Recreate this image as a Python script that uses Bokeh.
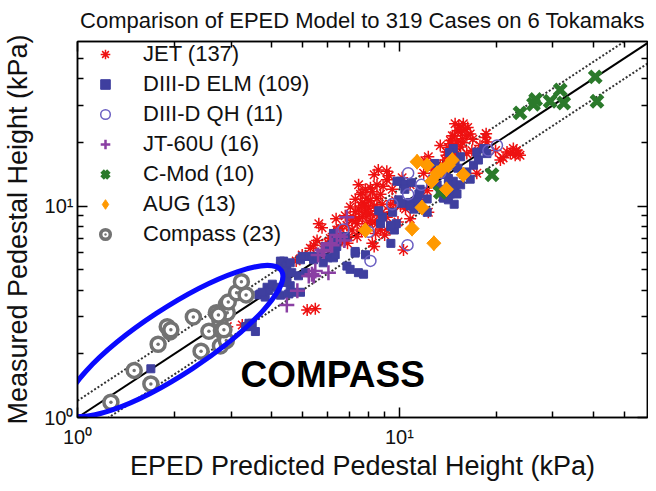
from bokeh.plotting import figure
from bokeh.models import LogAxis, FixedTicker
from bokeh.embed import file_html
from bokeh.resources import INLINE
from bokeh.core.properties import value
import numpy as np

FONT = "Liberation Sans"

# ---------------- data (kPa) ----------------
jet_x = [15.5, 16.0, 14.8, 14.4, 15.1, 15.7, 16.2, 15.5, 14.8, 16.8, 14.0, 18.5, 18.7, 21.6, 22.6, 23.4, 22.9, 17.4,
         16.2, 12.3, 14.0, 15.3, 15.8, 14.6, 14.4, 22.1, 23.1, 23.7, 12.0, 11.9, 21.0, 16.6, 15.2, 14.2, 17.8, 18.6,
         15.7, 16.9, 14.9, 13.9, 8.35, 9.14, 9.14, 8.52, 7.57, 7.93, 8.13, 7.66, 8.03, 7.47, 7.84, 8.13, 8.52, 7.68,
         8.13, 8.52, 7.39, 7.13, 6.56, 6.25, 6.63, 6.10, 5.62, 6.95, 8.74, 7.39, 8.35, 7.13, 8.84, 9.38, 9.73, 12.2,
         12.3, 10.3, 5.55, 5.42, 5.89, 8.6, 9.3, 7.66, 8.13, 7.8, 8.35, 8.52, 8.84, 9.14, 7.20, 6.87, 6.47, 6.0,
         5.75, 8.24, 9.38, 10.2, 9.0, 8.24, 10.08, 9.14, 6.39, 5.17, 5.48, 2.92, 3.25, 7.47, 7.84, 7.63, 7.93, 7.30,
         8.63, 8.24, 7.88, 6.79, 7.47, 8.74, 9.5, 5.29, 4.99, 4.78, 6.9, 7.63, 9.9, 10.8, 11.6, 10.45, 7.3, 8.43,
         8.9, 7.04, 6.36, 10.8, 13.4, 12.7, 20.6, 19.9, 13.4, 16.3, 14.9]
jet_y = [22.4, 23.1, 21.5, 20.4, 20.1, 20.8, 21.5, 19.0, 18.7, 18.3, 18.0, 21.1, 20.1, 18.0, 18.7, 17.7, 17.4, 14.3,
         17.7, 17.1, 17.4, 24.0, 24.5, 21.5, 19.7, 17.7, 18.3, 17.4, 16.4, 14.3, 16.9, 21.9, 22.7, 18.9, 19.35, 22.0,
         19.9, 20.7, 17.4, 16.5, 14.06, 14.6, 13.3, 12.6, 11.36, 10.9, 10.6, 10.4, 9.8, 9.68, 9.3, 9.18, 9.5, 8.9,
         8.55, 8.25, 8.25, 7.7, 7.82, 7.42, 6.88, 7.03, 8.25, 7.16, 7.7, 7.16, 6.44, 8.55, 10.2, 9.68, 10.6, 11.8,
         9.35, 6.2, 6.88, 6.53, 6.44, 14.8, 13.9, 11.6, 12.2, 10.1, 10.0, 10.9, 9.35, 8.85, 8.85, 8.1, 7.7, 6.7,
         7.9, 8.4, 10.2, 13.6, 7.3, 6.67, 10.0, 7.7, 7.7, 3.22, 3.27, 2.69, 2.74, 12.6, 12.0, 10.0, 9.18, 9.4,
         9.0, 11.7, 8.25, 9.0, 8.7, 11.36, 12.0, 6.32, 5.87, 5.5, 6.67, 7.6, 8.4, 8.7, 10.77, 9.68, 10.77, 7.42,
         12.4, 9.9, 8.7, 12.6, 15.6, 14.8, 16.5, 18.3, 19.35, 23.5, 24.5]

elm_x = [1.69, 3.33, 3.41, 3.49, 3.57, 3.37, 3.66, 3.70, 3.83, 3.88, 3.93, 4.03, 4.17, 4.27, 4.37, 4.27, 4.47, 4.58,
         4.68, 4.53, 4.47, 4.27, 4.45, 4.58, 4.47, 4.63, 4.86, 4.93, 4.99, 5.23, 5.35, 5.41, 5.54, 5.88, 6.00, 6.17,
         6.32, 6.39, 6.24, 6.32, 6.24, 6.79, 6.87, 7.03, 7.29, 7.46, 7.74, 7.29, 8.74, 9.41, 9.65, 9.78, 9.53, 8.85,
         8.63, 9.41, 9.95, 10.2, 10.8, 11.1, 11.6, 12.2, 11.1, 11.4, 12.2, 10.1, 10.3, 9.83, 10.9, 11.5, 12.9, 13.1,
         13.4, 13.9, 13.7, 14.2, 14.4, 14.0, 14.2, 14.9, 14.7, 15.1, 15.5, 14.7, 15.2, 14.9, 15.5, 14.3, 16.2, 17.0,
         17.4, 18.3, 18.7, 14.8, 10.8, 14.2, 13.4, 15.8, 16.6, 17.6, 12.7, 10.4, 11.6, 5.80, 5.11, 4.93, 3.75, 9.41,
         7.85]
elm_y = [1.70, 2.69, 2.79, 2.79, 2.55, 2.69, 3.80, 3.84, 3.71, 4.13, 3.99, 4.27, 4.13, 3.79, 5.49, 5.20, 4.59, 4.20,
         3.91, 3.84, 4.35, 5.49, 5.20, 5.39, 4.94, 4.84, 4.68, 5.57, 5.78, 5.78, 5.78, 5.57, 5.78, 6.44, 5.69, 6.56,
         6.91, 6.44, 5.69, 5.89, 7.42, 7.17, 5.20, 5.02, 5.99, 4.84, 4.76, 6.10, 8.25, 7.98, 7.70, 8.25, 9.34, 8.87,
         9.50, 8.10, 10.7, 10.3, 10.4, 9.86, 10.0, 9.34, 9.67, 10.8, 10.8, 13.1, 12.7, 13.1, 12.9, 11.4, 15.9, 12.6,
         14.1, 14.8, 10.9, 10.7, 11.4, 11.8, 13.5, 12.4, 13.1, 11.4, 12.6, 18.7, 15.1, 15.6, 17.1, 17.9, 14.5, 15.6,
         18.0, 18.7, 17.7, 10.2, 10.0, 12.6, 12.0, 14.1, 13.4, 16.5, 13.4, 12.0, 12.0, 5.39, 4.84, 3.91, 3.91, 6.66,
         5.88]

qh_x = [10.65, 10.65, 10.6, 8.13, 8.03, 20.1, 18.9, 11.7, 13.4, 9.5, 6.7]
qh_y = [14.3, 11.36, 6.53, 5.5, 7.55, 19.35, 18.3, 12.6, 14.35, 10.2, 7.75]

jt_x = [5.82, 6.18, 5.23, 5.42, 5.48, 4.82, 4.47, 6.87, 6.56, 6.10, 5.75, 5.35, 6.02, 6.39, 5.59, 6.75]
jt_y = [6.1, 6.53, 4.67, 4.67, 4.93, 3.98, 3.40, 8.85, 7.16, 6.67, 6.2, 4.76, 4.84, 7.29, 5.87, 6.87]

cmod_x = [40.6, 41.1, 31.6, 29.4, 32.4, 26.5, 26.1, 23.7, 19.4, 13.4]
cmod_y = [40.8, 31.3, 35.4, 31.3, 30.7, 31.9, 30.3, 27.6, 14.06, 11.6]

aug_x = [11.35, 12.2, 13.1, 13.5, 12.6, 15.8, 14.0, 11.75, 10.95, 12.8, 7.84, 14.2, 14.6]
aug_y = [16.2, 15.6, 14.3, 14.8, 13.1, 14.06, 12.0, 9.84, 7.82, 6.67, 7.68, 15.6, 16.5]

compass_x = [1.27, 1.50, 1.69, 1.78, 1.90, 1.94, 2.29, 2.42, 2.56, 2.70, 2.77, 2.80, 2.78, 2.90, 2.92, 2.90,
             2.94, 3.12, 3.23, 3.34, 2.74, 2.85, 1.95]
compass_y = [1.18, 1.67, 1.44, 2.22, 2.69, 2.54, 2.99, 2.06, 2.56, 3.13, 2.86, 2.58, 2.18, 3.43, 3.13, 2.31,
             3.52, 3.89, 4.39, 3.80, 3.05, 2.60, 2.60]

x_range = (1, 59)
y_range = (1, 60)
major_ticks = [1, 10]
minor_ticks = [2, 3, 4, 5, 6, 7, 8, 9, 20, 30, 40, 50]
tick_labels = {1: "10\u2070", 10: "10\u00b9"}

line_x = [1, 60]
band = 0.2

# annotation: ellipse around COMPASS points and label
ell_x, ell_y = 2.0, 2.30
ell_len, ell_wid, ell_ang = 256, 66, 33.3
note_x, note_y, note_text = 3.21, 1.60, "COMPASS"

# ---------------- figure ----------------
p = figure(width=648, height=483, x_axis_type="log", y_axis_type="log",
           x_range=x_range, y_range=y_range, output_backend="svg", toolbar_location=None,
           min_border_left=77, min_border_right=1, min_border_top=41, min_border_bottom=60)
p.background_fill_color = "white"
p.border_fill_color = "white"
p.outline_line_color = "black"
p.outline_line_width = 1.5
p.xgrid.visible = False
p.ygrid.visible = False

p.title.text = "Comparison of EPED Model to 319 Cases on 6 Tokamaks"
p.title.align = "center"
p.title.vertical_align = "top"
p.title.text_font = FONT
p.title.text_font_size = "22px"
p.title.text_font_style = "normal"
p.title.text_color = "#111111"
p.title.standoff = 14


def style_axis(ax, show_labels):
    ax.ticker = FixedTicker(ticks=major_ticks, minor_ticks=minor_ticks)
    ax.major_tick_in = 10
    ax.major_tick_out = 0
    ax.minor_tick_in = 6
    ax.minor_tick_out = 0
    ax.major_tick_line_width = 1.5
    ax.minor_tick_line_width = 1.5
    ax.axis_line_width = 1.5
    ax.axis_line_color = "black"
    ax.major_tick_line_color = "black"
    ax.minor_tick_line_color = "black"
    if show_labels:
        ax.major_label_overrides = tick_labels
        ax.major_label_text_font = FONT
        ax.major_label_text_font_size = "20px"
        ax.major_label_text_color = "#111111"
        ax.axis_label_text_font = FONT
        ax.axis_label_text_font_size = "27px"
        ax.axis_label_text_font_style = "normal"
        ax.axis_label_text_color = "#111111"
    else:
        ax.major_label_text_font_size = "0px"
        ax.major_label_text_color = None
        ax.major_label_standoff = 0


style_axis(p.xaxis[0], True)
style_axis(p.yaxis[0], True)
p.xaxis[0].axis_label = "EPED Predicted Pedestal Height (kPa)"
p.yaxis[0].axis_label = "Measured Pedestal Height (kPa)"
p.xaxis[0].major_label_standoff = 8
p.xaxis[0].axis_label_standoff = 0
p.yaxis[0].major_label_standoff = 4
p.yaxis[0].axis_label_standoff = 8

top = LogAxis()
style_axis(top, False)
p.add_layout(top, "above")
right = LogAxis()
style_axis(right, False)
p.add_layout(right, "right")

# reference lines
lx = np.array(line_x, dtype=float)
p.line(lx, lx, line_color="black", line_width=2)
p.line(lx, lx * (1 + band), line_color="#333333", line_width=2, line_dash="2 2")
p.line(lx, lx * (1 - band), line_color="#333333", line_width=2, line_dash="2 2")

# series
p.scatter(jet_x, jet_y, marker="asterisk", size=12, line_color="#ee1111", line_width=1.5,
          legend_label="JET (137)")
p.scatter(elm_x, elm_y, marker="square", size=8, fill_color="#3f3f9f", line_color="#3f3f9f",
          legend_label="DIII-D ELM (109)")
p.scatter(qh_x, qh_y, marker="circle", size=11, fill_color=None, line_color="#6b5fc2", line_width=1.5,
          legend_label="DIII-D QH (11)")
p.scatter(jt_x, jt_y, marker="cross", size=15, line_color="#8a3fa3", line_width=2.5,
          legend_label="JT-60U (16)")
p.scatter(cmod_x, cmod_y, marker="x", size=16, line_color="#2b7a2b", line_width=5,
          legend_label="C-Mod (10)")
# AUG: diamond swatch for the legend, rotated squares drawn on top of it
p.scatter(aug_x, aug_y, marker="diamond", size=15, fill_color="#ff9900", line_color="#ff9900",
          legend_label="AUG (13)")
p.scatter(aug_x, aug_y, marker="square", angle=np.pi / 4, size=10, fill_color="#ff9900",
          line_color="#ff9900")
p.scatter(compass_x, compass_y, marker="circle_dot", size=14, fill_color="white", line_color="#737373",
          line_width=3.5, legend_label="Compass (23)")

# annotation
p.ellipse(x=[ell_x], y=[ell_y], width=ell_len, height=ell_wid, angle=ell_ang, angle_units="deg",
          width_units="screen", height_units="screen", fill_color=None, line_color="#0a0aff", line_width=5)
p.text(x=[note_x], y=[note_y], text=[note_text], text_font=value(FONT), text_font_size="37px",
       text_font_style="bold", text_color="black", text_align="left", text_baseline="alphabetic")

leg = p.legend[0]
leg.location = "top_left"
leg.margin = 0
leg.padding = 15
leg.glyph_width = 56
leg.glyph_height = 24
leg.label_height = 24
leg.label_standoff = 10
leg.spacing = 4
leg.label_text_font = FONT
leg.label_text_font_size = "22px"
leg.label_text_color = "#111111"
leg.border_line_color = None
leg.background_fill_alpha = 0

open("out.html", "w").write(file_html(p, INLINE))
